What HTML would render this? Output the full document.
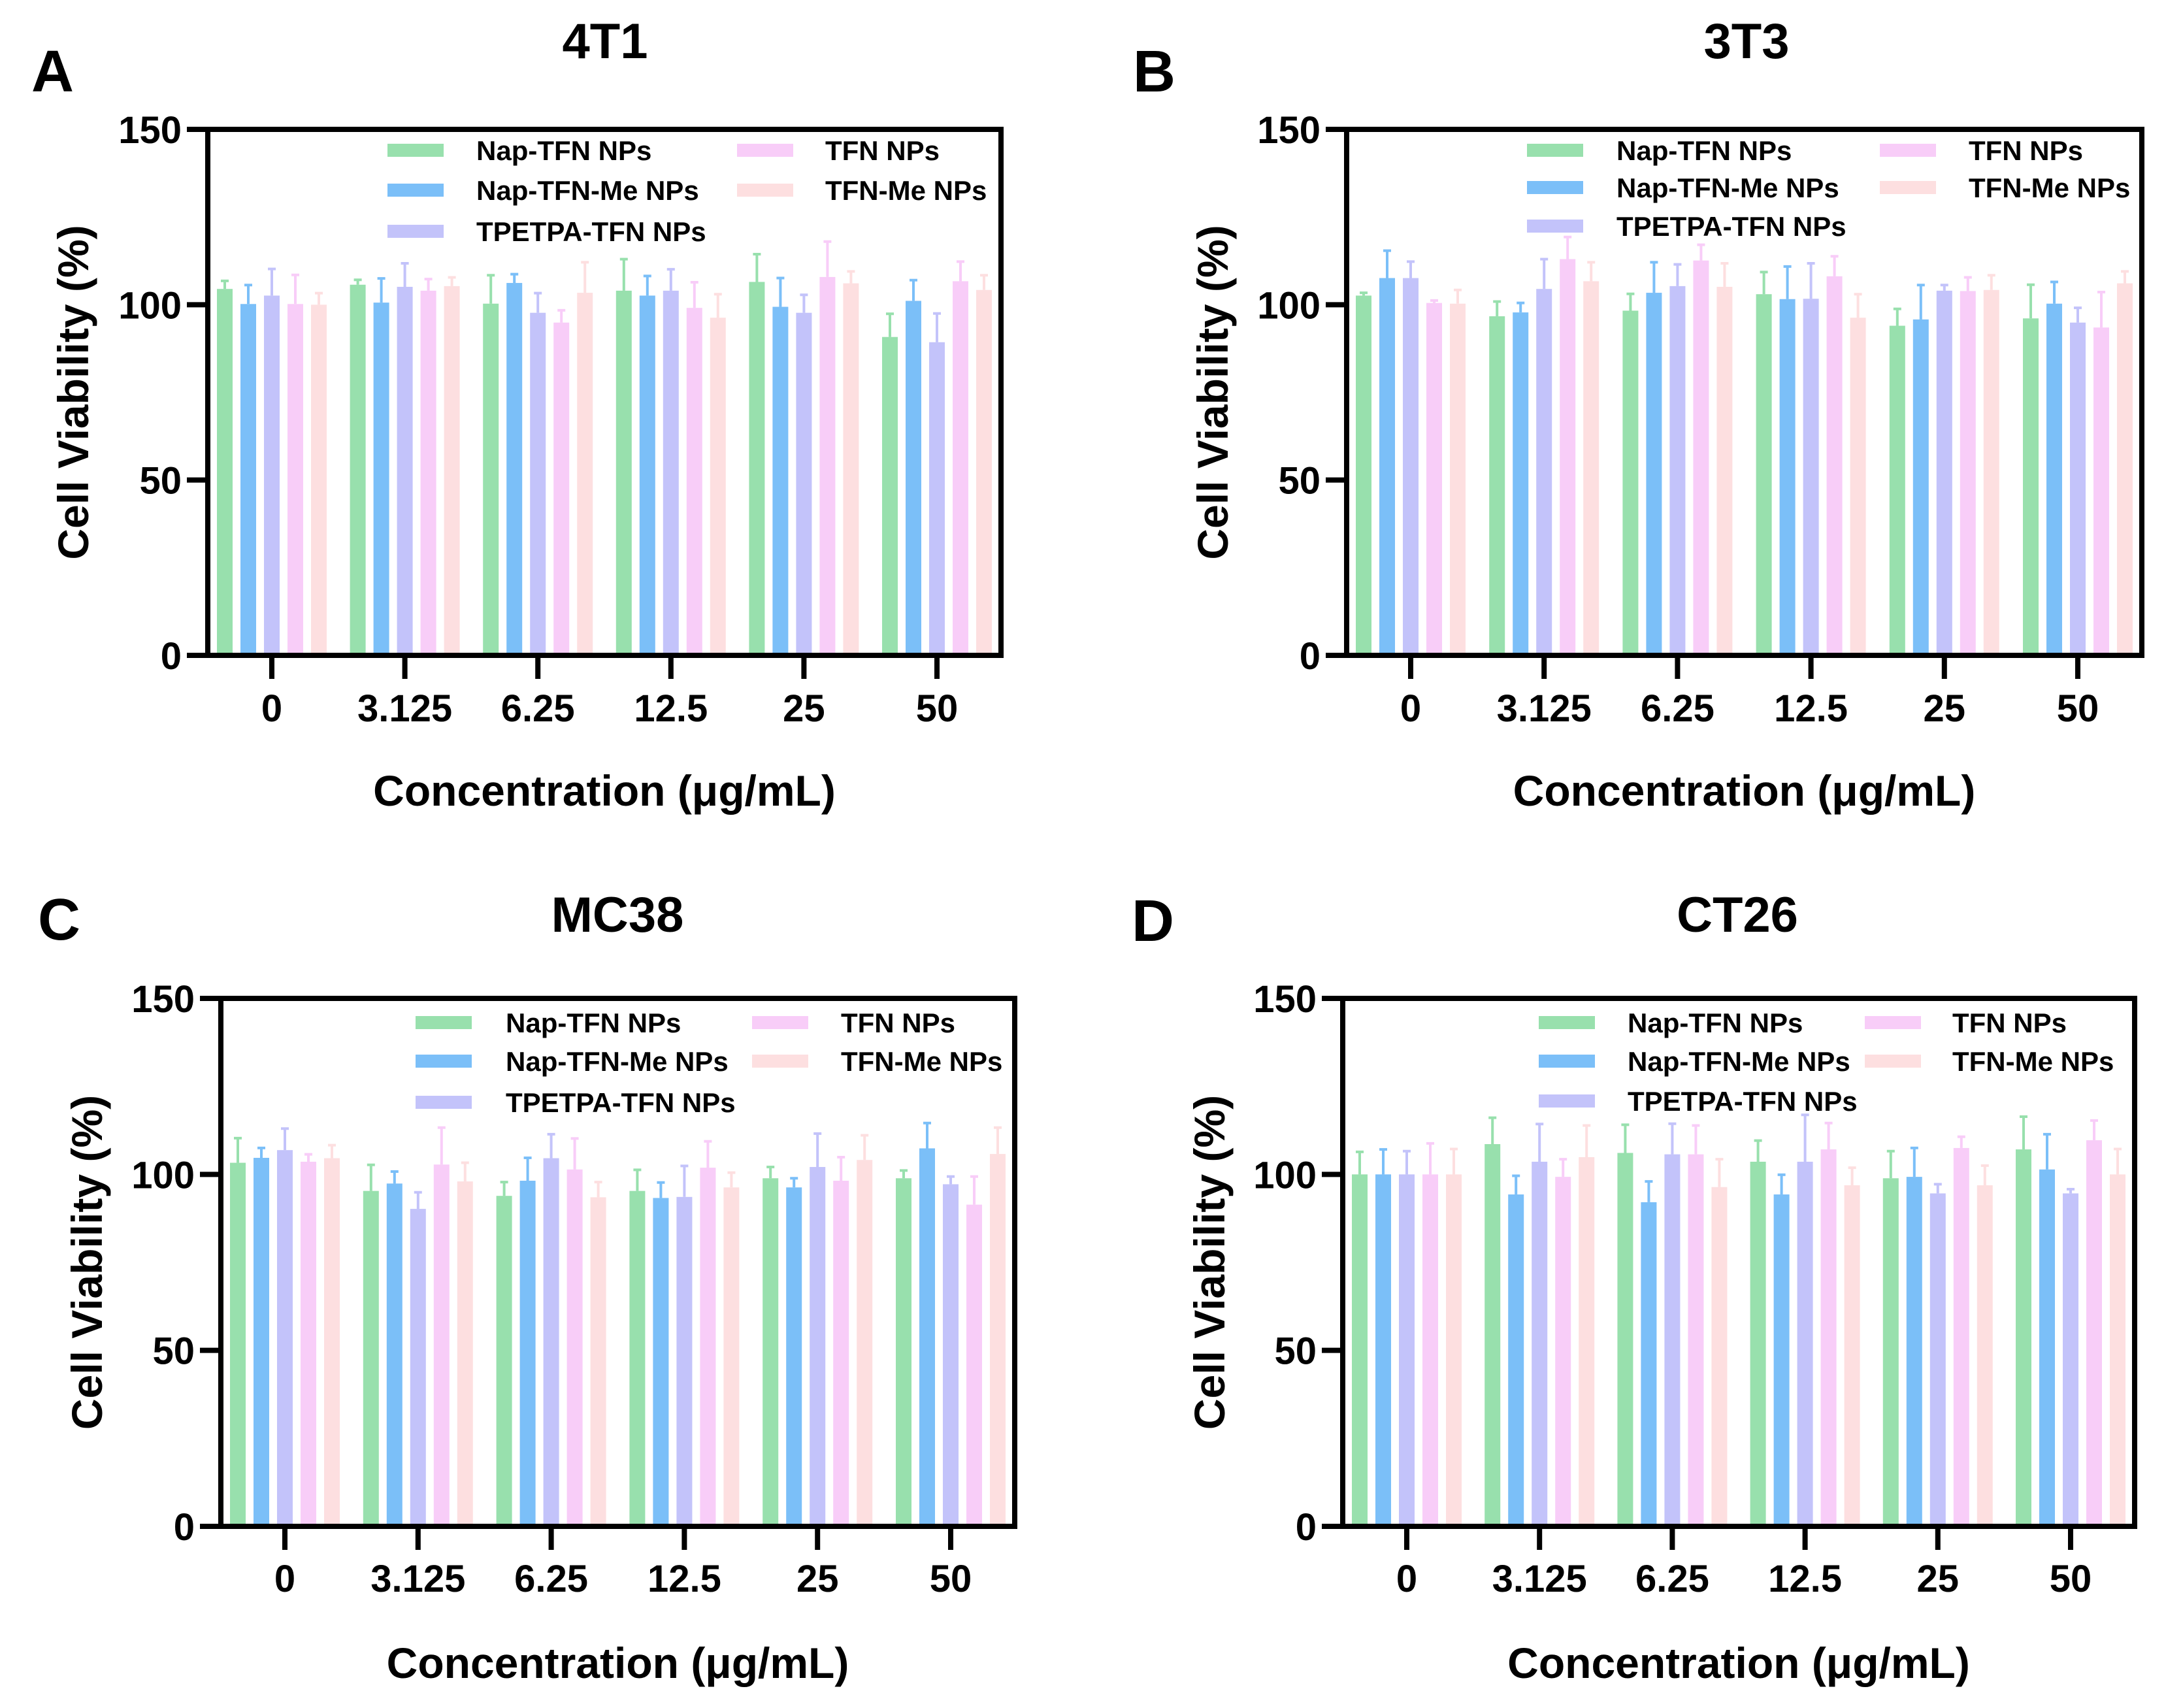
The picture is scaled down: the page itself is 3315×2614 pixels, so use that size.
<!DOCTYPE html>
<html><head><meta charset="utf-8"><style>
html,body{margin:0;padding:0;background:#fff;}
svg{display:block;font-family:"Liberation Sans",Arial,sans-serif;font-weight:bold;}
</style></head><body>
<svg id="fig" width="3315" height="2614" viewBox="0 0 3315 2614" xmlns="http://www.w3.org/2000/svg"></svg>
<script>
const categories = ["0","3.125","6.25","12.5","25","50"];
const seriesNames = ["Nap-TFN NPs","Nap-TFN-Me NPs","TPETPA-TFN NPs","TFN NPs","TFN-Me NPs"];
const yTicks = [0,50,100,150];
// Panel A (4T1)
const a_nap = [104.5,105.7,100.3,104.0,106.5,90.8];
const a_napme = [100.2,100.6,106.2,102.6,99.4,101.1];
const a_tpetpa = [102.6,105.1,97.7,104.0,97.7,89.3];
const a_tfn = [100.2,104.0,94.9,99.1,107.9,106.7];
const a_tfnme = [100.0,105.3,103.4,96.3,106.1,104.2];
const a_nap_sd = [2.3,1.4,8.1,9.0,7.9,6.6];
const a_napme_sd = [5.4,6.9,2.5,5.6,8.2,5.9];
const a_tpetpa_sd = [7.6,6.7,5.6,6.1,5.1,8.2];
const a_tfn_sd = [8.3,3.3,3.5,7.3,10.1,5.6];
const a_tfnme_sd = [3.3,2.5,8.7,6.7,3.4,4.2];
// Panel B (3T3)
const b_nap = [102.6,96.7,98.3,103.0,94.0,96.1];
const b_napme = [107.6,97.8,103.4,101.6,95.8,100.3];
const b_tpetpa = [107.6,104.5,105.3,101.7,104.0,94.9];
const b_tfn = [100.5,113.0,112.6,108.1,103.9,93.5];
const b_tfnme = [100.3,106.7,105.1,96.3,104.2,106.1];
const b_nap_sd = [0.8,4.2,4.8,6.3,4.8,9.6];
const b_napme_sd = [7.8,2.7,8.7,9.3,9.8,6.2];
const b_tpetpa_sd = [4.7,8.5,6.2,10.1,1.6,4.2];
const b_tfn_sd = [0.7,6.3,4.5,5.7,3.9,10.1];
const b_tfnme_sd = [3.9,5.4,6.7,6.7,4.2,3.4];
// Panel C (MC38)
const c_nap = [103.3,95.3,93.9,95.3,98.9,98.9];
const c_napme = [104.7,97.4,98.2,93.3,96.3,107.4];
const c_tpetpa = [106.9,90.2,104.6,93.6,102.1,97.2];
const c_tfn = [103.6,102.8,101.4,101.9,98.2,91.4];
const c_tfnme = [104.6,98.0,93.5,96.3,104.1,105.8];
const c_nap_sd = [7.0,7.4,3.9,6.0,3.2,2.2];
const c_napme_sd = [2.8,3.4,6.5,4.4,2.6,7.2];
const c_tpetpa_sd = [6.1,4.7,6.8,8.8,9.5,2.2];
const c_tfn_sd = [2.1,10.5,8.8,7.5,6.7,8.0];
const c_tfnme_sd = [3.7,5.3,4.3,4.2,7.0,7.5];
// Panel D (CT26)
const d_nap = [100.0,108.6,106.1,103.6,98.9,107.1];
const d_napme = [100.0,94.3,92.1,94.3,99.3,101.4];
const d_tpetpa = [100.0,103.6,105.7,103.6,94.6,94.6];
const d_tfn = [100.0,99.3,105.7,107.1,107.5,109.7];
const d_tfnme = [100.0,104.9,96.4,96.9,96.9,100.0];
const d_nap_sd = [6.4,7.5,8.0,6.0,7.7,9.3];
const d_napme_sd = [7.1,5.3,5.9,5.6,8.2,10.0];
const d_tpetpa_sd = [6.6,10.7,8.7,13.3,2.6,1.2];
const d_tfn_sd = [8.8,5.0,8.2,7.5,3.2,5.6];
const d_tfnme_sd = [7.2,9.0,7.9,5.0,5.6,7.2];

const colors = ["#98E0AD","#7BBFF8","#C3C3FA","#F8CDF8","#FDDFE0"];
const NS = "http://www.w3.org/2000/svg";
const svg = document.getElementById("fig");
function mk(tag, attrs, parent){
  const e = document.createElementNS(NS, tag);
  for (const k in attrs) e.setAttribute(k, attrs[k]);
  (parent||svg).appendChild(e);
  return e;
}
const panels = [
  {id:"a", letter:"A", title:"4T1", L:318, R:1532, T:198, B:1003, lx:48, ly:140, tx:926, ty:89, yTitleX:112, xTitleY:1233, xLabY:1104,
   leg:{s1:593, t1:729, s2:1128, t2:1263, rows:[230,291,354]},
   vals:[a_nap,a_napme,a_tpetpa,a_tfn,a_tfnme], sds:[a_nap_sd,a_napme_sd,a_tpetpa_sd,a_tfn_sd,a_tfnme_sd]},
  {id:"b", letter:"B", title:"3T3", L:2061, R:3278, T:198, B:1003, lx:1734, ly:140, tx:2673, ty:89, yTitleX:1856, xTitleY:1233, xLabY:1104,
   leg:{s1:2337, t1:2474, s2:2877, t2:3013, rows:[230,287,346]},
   vals:[b_nap,b_napme,b_tpetpa,b_tfn,b_tfnme], sds:[b_nap_sd,b_napme_sd,b_tpetpa_sd,b_tfn_sd,b_tfnme_sd]},
  {id:"c", letter:"C", title:"MC38", L:338, R:1553, T:1528, B:2336, lx:58, ly:1438, tx:945, ty:1426, yTitleX:133, xTitleY:2568, xLabY:2436,
   leg:{s1:636, t1:774, s2:1151, t2:1287, rows:[1565,1624,1687]},
   vals:[c_nap,c_napme,c_tpetpa,c_tfn,c_tfnme], sds:[c_nap_sd,c_napme_sd,c_tpetpa_sd,c_tfn_sd,c_tfnme_sd]},
  {id:"d", letter:"D", title:"CT26", L:2055, R:3267, T:1528, B:2336, lx:1732, ly:1440, tx:2659, ty:1426, yTitleX:1851, xTitleY:2568, xLabY:2436,
   leg:{s1:2355, t1:2491, s2:2854, t2:2988, rows:[1565,1624,1685]},
   vals:[d_nap,d_napme,d_tpetpa,d_tfn,d_tfnme], sds:[d_nap_sd,d_napme_sd,d_tpetpa_sd,d_tfn_sd,d_tfnme_sd]}
];
panels.forEach(p => {
  const g = mk("g", {});
  
  
  const yS = v => p.B - (v/150)*(p.B - p.T);
  const step = (p.R - p.L - 196) / (categories.length - 1);
  const xS = i => p.L + 98 + i*step;
  const barStep = 36, barW = 24;
  // letter
  const lt = mk("text", {x:p.lx, y:p.ly, "font-size":90}, g); lt.textContent = p.letter;
  
  
  const tt = mk("text", {x:p.tx, y:p.ty, "font-size":76, "text-anchor":"middle"}, g); tt.textContent = p.title;
  
  
  // bars
  p.vals.forEach((arr, s) => {
    arr.forEach((v, i) => {
      const cx = xS(i) + (s-2)*barStep;
      const top = yS(v);
      const r = mk("rect", {x:cx-barW/2, y:top, width:barW, height:p.B-top, fill:colors[s]}, g);
      
      
      const et = yS(v + p.sds[s][i]);
      const e = mk("path", {d:`M${cx},${top} V${et} M${cx-6},${et} H${cx+6}`, stroke:colors[s], "stroke-width":4, fill:"none"}, g);
      
      
    });
  });
  // frame
  const fr = mk("rect", {x:p.L, y:p.T, width:p.R-p.L, height:p.B-p.T, fill:"none", stroke:"#000", "stroke-width":8}, g);
  
  
  // y ticks
  yTicks.forEach(t => {
    const y = yS(t);
    const tk = mk("line", {x1:p.L-32, x2:p.L, y1:y, y2:y, stroke:"#000", "stroke-width":8}, g);
    
    
    const tl = mk("text", {x:p.L-40, y:y+21, "font-size":58, "text-anchor":"end"}, g); tl.textContent = t;
    
    
  });
  categories.forEach((c, i) => {
    const x = xS(i);
    const tk = mk("line", {x1:x, x2:x, y1:p.B, y2:p.B+36, stroke:"#000", "stroke-width":8}, g);
    
    
    const tl = mk("text", {x:x, y:p.xLabY, "font-size":58, "text-anchor":"middle"}, g); tl.textContent = c;
    
    
  });
  const cy = (p.T + p.B)/2;
  const yt = mk("text", {x:p.yTitleX, y:cy, "font-size":66, "text-anchor":"middle", "dominant-baseline":"central", transform:`rotate(-90 ${p.yTitleX} ${cy})`}, g);
  yt.textContent = "Cell Viability (%)";
  
  
  const xt = mk("text", {x:(p.L+p.R)/2, y:p.xTitleY, "font-size":66, "text-anchor":"middle"}, g);
  xt.textContent = "Concentration (\u03bcg/mL)";
  
  
  // legend
  const pos = [[p.leg.s1,p.leg.t1,0],[p.leg.s1,p.leg.t1,1],[p.leg.s1,p.leg.t1,2],[p.leg.s2,p.leg.t2,0],[p.leg.s2,p.leg.t2,1]];
  seriesNames.forEach((n, s) => {
    const [sx, tx, r] = pos[s];
    const ry = p.leg.rows[r];
    const sw = mk("rect", {x:sx, y:ry-10, width:86, height:20, fill:colors[s]}, g);
    
    
    const lt2 = mk("text", {x:tx, y:ry+15, "font-size":42}, g); lt2.textContent = n;
    
    
  });
});
</script>
</body></html>
